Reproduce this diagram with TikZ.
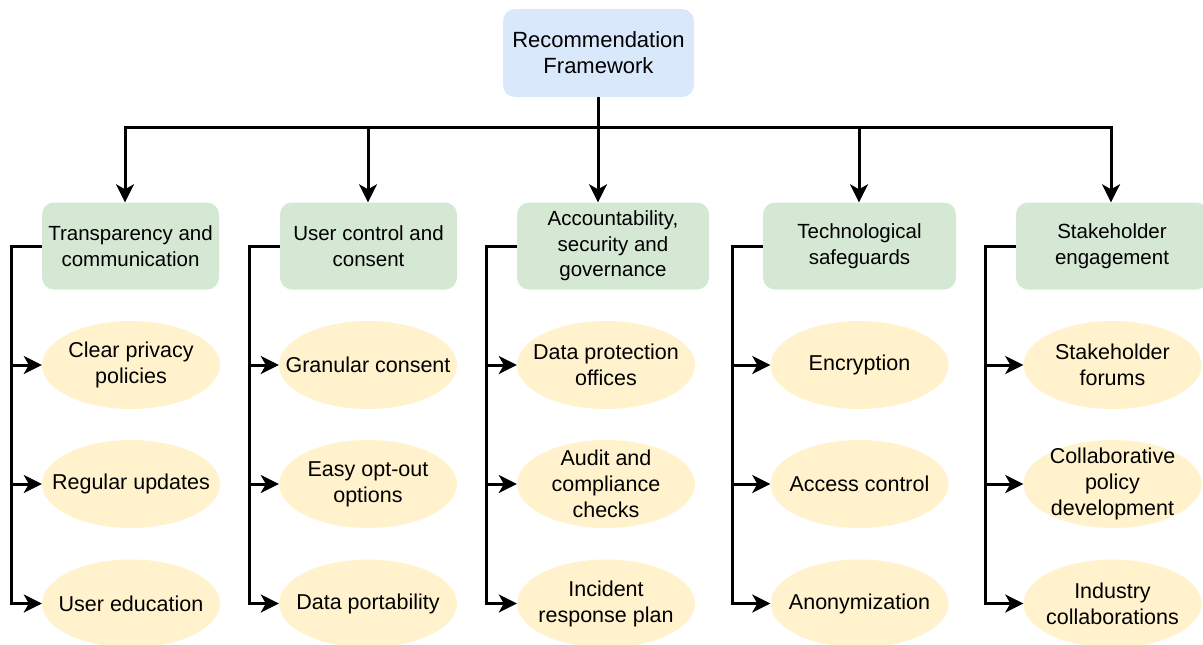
\documentclass[tikz,border=0pt]{standalone}
\usepackage{fontspec}
\setmainfont{Liberation Sans}
\usepackage{tikz}
\usetikzlibrary{arrows.meta,shapes.geometric,calc}
\usepackage{xcolor}
\definecolor{RootBlue}{HTML}{dae8fc}
\definecolor{GroupGreen}{HTML}{d5e8d4}
\definecolor{LeafYellow}{HTML}{fff2cc}

\tikzset{
  rootbox/.style={fill=RootBlue, rounded corners=12pt, minimum width=191pt, minimum height=88pt,
    align=center, font=\fontsize{22}{26}\selectfont},
  groupbox/.style={fill=GroupGreen, rounded corners=12pt, minimum height=87pt, inner sep=0pt,
    align=center, font=\fontsize{20.5}{25.5}\selectfont},
  leaf/.style={ellipse, fill=LeafYellow, minimum width=178pt, minimum height=88pt,
    inner xsep=-40pt, inner ysep=-20pt, align=center, font=\fontsize{21.5}{26}\selectfont},
  link/.style={line width=3pt, -{Stealth[length=18pt,width=18pt,inset=5pt]}},
  wire/.style={line width=3pt}
}

\begin{document}
\begin{tikzpicture}[x=1pt,y=-1pt]
    \useasboundingbox (0,0) rectangle (1203,645);
    \node[rootbox] (root) at (598.5,53) {Recommendation\\Framework};
    \foreach \cx/\w/\name/\txt in {130.5/177/trans/{Transparency and\\communication},
        368.5/177/ctrl/{User control and\\consent},
        613/192/acct/{Accountability,\\security and\\governance},
        859.5/193/tech/{Technological\\safeguards},
        1112/192/stake/{Stakeholder\\engagement}} {
     \node[groupbox, minimum width=\w pt] (\name) at (\cx,246) {\txt};
    }
    \foreach \cx/\name/\a/\b/\c in {131/trans/{Clear privacy\\policies}/{Regular updates}/{User education},
        368/ctrl/{Granular consent}/{Easy opt-out\\options}/{Data portability},
        606/acct/{Data protection\\offices}/{Audit and\\compliance\\checks}/{Incident\\response plan},
        859.5/tech/{Encryption}/{Access control}/{Anonymization},
        1112.5/stake/{Stakeholder\\forums}/{Collaborative\\policy\\development}/{Industry\\collaborations}} {
     \node[leaf] (\name-1) at (\cx,365) {\a};
     \node[leaf] (\name-2) at (\cx,484) {\b};
     \node[leaf] (\name-3) at (\cx,603.5) {\c};
     \foreach \i in {1,2,3} {
      \draw[link] (\name.west) -- ++(-30,0) |- (\name-\i.west);
     }
    }
    % bus from the root down to the groups
    \coordinate (bus) at ($(root.south)+(0,30)$);
    \draw[wire] (root.south) -- (bus);
    \foreach \name/\dx in {trans/-5.5,ctrl/-0.5,acct/-15,tech/-0.5,stake/-1} {
     \draw[link] (bus) -| ([xshift=\dx pt]\name.north);
    }
\end{tikzpicture}
\end{document}
